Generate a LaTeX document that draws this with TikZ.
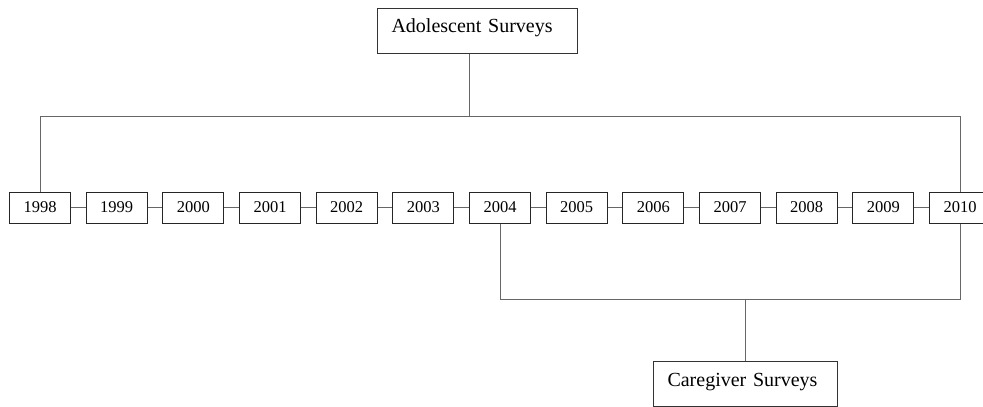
\documentclass[tikz,border=0pt]{standalone}
\usepackage{fontspec}
\setmainfont{Liberation Serif}
\begin{document}
\begin{tikzpicture}[x=1pt,y=-1pt,
  yearbox/.style={draw=black!85, line width=1pt, minimum width=61pt, minimum height=31pt, inner sep=0pt, font=\fontsize{16.5}{18}\selectfont},
  labelbox/.style={draw=black!80, line width=1pt, anchor=north west, inner xsep=14pt, inner ysep=4pt, align=left, font=\fontsize{20}{22}\selectfont},
  link/.style={draw=black!60, line width=1pt}]
\useasboundingbox (0,0) rectangle (983,407);
\node[labelbox, text width=172pt, text height=20pt, text depth=17pt] (adol) at (377,8) {Adolescent Surveys};
\node[labelbox, text width=156pt, text height=21pt, text depth=16pt] (care) at (653,361) {Caregiver Surveys};
\foreach \yr [count=\i from 0] in {1998,...,2010}{
  \node[yearbox] (y\yr) at ({40+76.67*\i},207.5) {\yr};
}
\foreach \a/\b in {1998/1999,1999/2000,2000/2001,2001/2002,2002/2003,2003/2004,2004/2005,2005/2006,2006/2007,2007/2008,2008/2009,2009/2010}{
  \draw[link] (y\a.east) -- (y\b.west);
}
\coordinate (tj) at (469,116);
\coordinate (bj) at (745,299);
\draw[link] (adol.south -| tj) -- (tj);
\draw[link] (y1998.north) |- (y2010.north |- tj) -- (y2010.north);
\draw[link] (y2004.south) |- (y2010.south |- bj) -- (y2010.south);
\draw[link] (bj) -- (care.north -| bj);
\end{tikzpicture}
\end{document}
